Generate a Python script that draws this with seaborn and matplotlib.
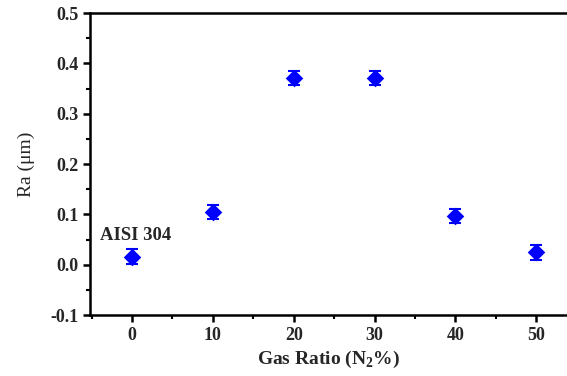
import matplotlib
matplotlib.use("Agg")
import matplotlib.pyplot as plt
import seaborn as sns
import pandas as pd
from matplotlib.ticker import MultipleLocator

gas_ratio = [0, 10, 20, 30, 40, 50]
ra = [0.016, 0.105, 0.371, 0.371, 0.097, 0.025]
ra_err = [0.015, 0.014, 0.014, 0.014, 0.014, 0.015]

sns.set_style("ticks")
plt.rcParams['font.family'] = ['Liberation Serif', 'DejaVu Serif']
plt.rcParams['mathtext.fontset'] = 'custom'
plt.rcParams['mathtext.rm'] = 'Liberation Serif'
plt.rcParams['mathtext.bf'] = 'Liberation Serif:bold'

df = pd.DataFrame({"gas": gas_ratio, "ra": ra, "err": ra_err})

fig = plt.figure(figsize=(5.67, 3.76), dpi=100)
ax = fig.add_axes([0.1587, 0.1622, 0.8413, 0.8032])

ax.errorbar(df["gas"], df["ra"], yerr=df["err"], fmt="none", ecolor="#0000ff",
            elinewidth=1.5, capsize=4, capthick=1.5, zorder=2)
sns.scatterplot(data=df, x="gas", y="ra", marker="D", s=80, color="#0000ff",
                edgecolor="#0000ff", linewidth=0, ax=ax, zorder=3)

ax.set_xlim(-5.2, 53.8)
ax.set_ylim(-0.1, 0.5)
ax.xaxis.set_major_locator(MultipleLocator(10))
ax.xaxis.set_minor_locator(MultipleLocator(5))
ax.yaxis.set_minor_locator(MultipleLocator(0.05))
ax.set_yticks([-0.1, 0.0, 0.1, 0.2, 0.3, 0.4, 0.5])
ax.set_yticklabels(["-0.1", "0.0", "0.1", "0.2", "0.3", "0.4", "0.5"])

for s in ["left", "bottom", "top"]:
    ax.spines[s].set_linewidth(1.8)
    ax.spines[s].set_color("black")
ax.spines["right"].set_visible(False)

ax.tick_params(axis="both", which="major", direction="out", length=5, width=1.8,
               labelsize=13, color="black")
ax.tick_params(axis="both", which="minor", direction="out", length=3, width=1.5, color="black")
ax.tick_params(top=False, right=False, which="both")
for lab in ax.get_xticklabels() + ax.get_yticklabels():
    lab.set_fontweight("bold")

ax.set_xlabel("Gas Ratio (N$_\\mathbf{2}$%)", fontsize=14, fontweight="bold", labelpad=4)
ax.set_ylabel("Ra (\u03bcm)", fontsize=14, labelpad=11)

ax.text(-3.9, 0.058, "AISI 304", fontsize=13.4, fontweight="bold", ha="left", va="center")

fig.savefig("out.png", dpi=100)
